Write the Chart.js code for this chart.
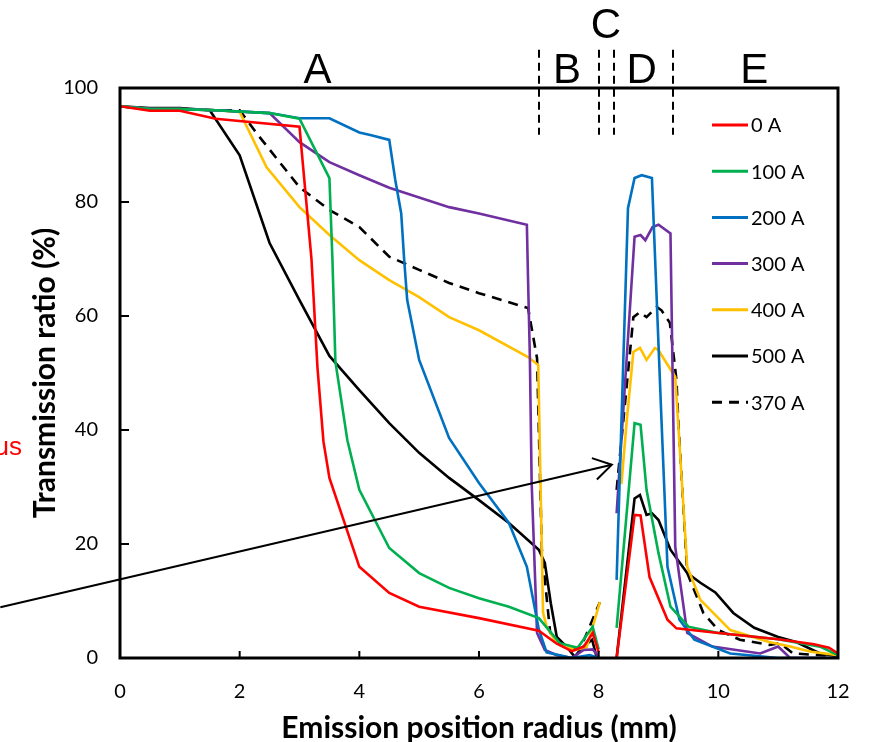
<!DOCTYPE html>
<html>
<head>
<meta charset="utf-8">
<script src="https://cdn.jsdelivr.net/npm/chart.js@4"></script>
<style>
  html, body { margin: 0; padding: 0; background: #fff; }
  #wrap { width: 872px; height: 742px; position: relative; }
</style>
</head>
<body>
<div id="wrap"><canvas id="myChart"></canvas></div>
<script>
'use strict';

// series names (legend order)
const seriesNames = ['0 A', '100 A', '200 A', '300 A', '400 A', '500 A', '370 A'];
const seriesColors = ['#ff0000', '#00b050', '#0070c0', '#7030a0', '#ffc000', '#000000', '#000000'];

// 0 A
const x0 = [0, 0.5, 1.0, 1.6, 3.0, 3.2, 3.3, 3.4, 3.5, 4.0, 4.5, 5.0, 6.0, 7.0, 7.3, 7.55, 7.75, 7.9, 8.0, 8.1,
  8.3, 8.6, 8.7, 8.85, 9.15, 9.3, 10.0, 11.0, 11.6, 11.85, 12];
const y0 = [96.8, 96, 96, 94.6, 93.2, 70, 51, 38, 31.6, 16, 11.4, 9, 7, 4.8, 2.5, 1.2, 2, 4.4, 1, null,
  0, 25.1, 25, 14.2, 6.7, 5.2, 4.4, 3.3, 2.4, 1.8, 0.8];

// 100 A
const x1 = [0, 0.5, 1.0, 1.6, 2.5, 3.0, 3.5, 3.55, 3.6, 3.8, 4.0, 4.5, 5.0, 5.5, 6.0, 6.5, 7.0, 7.35, 7.65, 7.9, 8.0, 8.1,
  8.3, 8.6, 8.7, 8.8, 9.0, 9.2, 9.5, 10.0, 11.0, 11.7, 12];
const y1 = [96.8, 96.3, 96.3, 96.1, 95.6, 94.6, 84.2, 70, 52, 38.2, 29.5, 19.3, 14.9, 12.3, 10.5, 9, 7, 2.6, 1.8, 5.5, 1.5, null,
  5.3, 41.2, 40.9, 29.5, 18.4, 9, 5.5, 4.4, 3.3, 2, 0.5];

// 200 A
const x2 = [0, 0.5, 1.0, 1.6, 2.5, 3.0, 3.5, 4.0, 4.2, 4.5, 4.6, 4.7, 4.75, 4.8, 5.0, 5.5, 6.0, 6.5, 6.8, 7.0, 7.13, 7.55, 7.85, 8.0, 8.1,
  8.3, 8.49, 8.6, 8.72, 8.89, 9.05, 9.15, 9.35, 9.5, 9.6, 10.2, 11.0, 12];
const y2 = [96.8, 96.3, 96.3, 96.1, 95.6, 94.7, 94.7, 92.2, 91.7, 90.9, 83.9, 78, 69.8, 62.8, 52.3, 38.6, 30.7, 23.7, 16, 5, 1, 0, 0.5, 0, null,
  13.7, 78.9, 84.2, 84.7, 84.2, 41.7, 16, 6.7, 4.6, 3.2, 0.8, 0, 0];

// 300 A
const x3 = [0, 0.5, 1.0, 1.6, 2.5, 3.0, 3.5, 4.0, 4.5, 5.5, 6.0, 6.8, 6.82, 6.85, 6.88, 6.97, 7.1, 7.3, 7.55, 7.75, 7.9, 8.0, 8.1,
  8.3, 8.6, 8.7, 8.78, 8.9, 9.0, 9.2, 9.28, 9.48, 9.9, 10.7, 10.85, 11.0, 11.2, 12];
const y3 = [96.8, 96.3, 96.3, 96.1, 95.6, 90.5, 87, 84.7, 82.5, 79.1, 78, 76, 66.3, 52.8, 30.7, 4.4, 1.4, 0.5, 0, 1.4, 1.5, 0.3, null,
  25.4, 73.9, 74.2, 73.3, 75.6, 76, 74.5, 19.5, 4.4, 2, 0.8, 1.4, 2.0, 0, 0];

// 400 A
const x4 = [0, 0.5, 1.0, 1.6, 2.0, 2.45, 3.0, 3.5, 4.0, 4.5, 5.0, 5.5, 6.0, 6.82, 6.99, 7.07, 7.13, 7.3, 7.6, 7.8, 8.02, 8.1,
  8.38, 8.47, 8.58, 8.69, 8.8, 8.94, 9.0, 9.28, 9.48, 9.7, 10.2, 10.85, 11.2, 11.55, 12];
const y4 = [96.8, 96.3, 96.3, 96.1, 95.8, 86.1, 79.1, 74.2, 69.8, 66.3, 63.3, 59.8, 57.5, 52.8, 51.4, 8, 5.5, 2.6, 1.4, 1.9, 9.8, null,
  30.5, 41.7, 53.7, 54.4, 52.3, 54.4, 54, 49.3, 16, 10.2, 4.9, 2.8, 2, 1.1, 0.5];

// 500 A
const x5 = [0, 0.5, 1.0, 1.5, 2.0, 2.5, 3.0, 3.5, 4.0, 4.5, 5.0, 5.5, 6.0, 6.5, 7.0, 7.1, 7.2, 7.3, 7.47, 7.6, 7.72, 7.89, 7.97, 8.1,
  8.3, 8.6, 8.69, 8.8, 8.89, 9.0, 9.2, 9.48, 9.7, 9.95, 10.25, 10.6, 11.0, 11.3, 11.7, 12];
const y5 = [96.8, 96.5, 96.5, 96.1, 88.2, 72.8, 62.8, 53, 47, 41.2, 36, 31.6, 27.7, 23.7, 19, 16.7, 9.6, 3.7, 1.9, 0.2, 1.8, 3.2, 0, null,
  0, 28, 28.6, 25.1, 25.4, 24.2, 19, 14.9, 13.2, 11.5, 7.9, 5.3, 3.7, 2.8, 0.8, 0.3];

// 370 A (dashed)
const x6 = [0, 0.5, 1.0, 1.6, 2.0, 2.28, 3.0, 3.5, 4.0, 4.5, 5.0, 5.5, 6.0, 6.82, 6.97, 7.05, 7.19, 7.5, 7.7, 8.02, 8.1,
  8.3, 8.58, 8.69, 8.8, 8.97, 9.05, 9.19, 9.3, 9.33, 9.48, 9.75, 10.0, 10.36, 10.86, 11.03, 11.25, 12];
const y6 = [96.8, 96.3, 96.3, 96.1, 96.1, 92.1, 82.6, 78.6, 75.6, 70.4, 68.1, 65.8, 64, 61.4, 52.6, 19, 4.4, 1.5, 1.8, 9.8, null,
  29.5, 59.8, 60.7, 59.8, 61.6, 61, 58.8, 48.8, 41.7, 14.9, 7.9, 4.9, 3.2, 2.3, 2.6, 0.8, 0.3];

const seriesX = [x0, x1, x2, x3, x4, x5, x6];
const seriesY = [y0, y1, y2, y3, y4, y5, y6];

// axis ticks
const xTicks = [0, 2, 4, 6, 8, 10, 12];
const yTicks = [0, 20, 40, 60, 80, 100];

// region marks (mm) and labels
const regionBounds = [7.0, 8.0, 8.25, 9.25];
const regionLabels = ['A', 'B', 'C', 'D', 'E'];
const regionLabelX = [3.3, 7.47, 8.12, 8.72, 10.6];
// arrow annotation, in data units
const arrowFrom = [-2.0, 8.9];
const arrowTo = [8.22, 33.9];

const datasets = seriesNames.map(function (name, i) {
  return {
    label: name,
    data: seriesX[i].map(function (x, j) { return { x: x, y: seriesY[i][j] }; }),
    borderColor: seriesColors[i],
    backgroundColor: seriesColors[i],
    borderWidth: 2.6,
    borderDash: name === '370 A' ? [10, 7] : [],
    pointRadius: 0,
    tension: 0,
    fill: false,
    spanGaps: false
  };
});

const decor = {
  id: 'decor',
  afterDatasetsDraw: function (chart) {
    const ctx = chart.ctx;
    const a = chart.chartArea;
    const xs = chart.scales.x, ys = chart.scales.y;
    ctx.save();
    // frame
    ctx.strokeStyle = '#000';
    ctx.lineWidth = 3;
    ctx.strokeRect(a.left, a.top, a.right - a.left, a.bottom - a.top);
    // inner ticks
    ctx.lineWidth = 2;
    yTicks.forEach(function (v) {
      const py = ys.getPixelForValue(v);
      ctx.beginPath(); ctx.moveTo(a.left, py); ctx.lineTo(a.left + 9, py); ctx.stroke();
    });
    xTicks.forEach(function (v) {
      const px = xs.getPixelForValue(v);
      ctx.beginPath(); ctx.moveTo(px, a.bottom); ctx.lineTo(px, a.bottom - 7); ctx.stroke();
    });
    ctx.restore();
  },
  afterDraw: function (chart) {
    const ctx = chart.ctx;
    const a = chart.chartArea;
    const xs = chart.scales.x, ys = chart.scales.y;
    ctx.save();

    // region boundaries
    ctx.strokeStyle = '#000';
    ctx.lineWidth = 2;
    ctx.setLineDash([8, 5]);
    regionBounds.forEach(function (v) {
      const px = Math.round(xs.getPixelForValue(v));
      ctx.beginPath();
      ctx.moveTo(px, ys.getPixelForValue(106.7));
      ctx.lineTo(px, ys.getPixelForValue(91.8));
      ctx.stroke();
    });
    ctx.setLineDash([]);

    // region letters
    ctx.fillStyle = '#000';
    ctx.font = '42px "Liberation Sans", Arial, sans-serif';
    ctx.textAlign = 'center';
    ctx.textBaseline = 'alphabetic';
    regionLabels.forEach(function (t, i) {
      const py = t === 'C' ? a.top - 50 : a.top - 5;
      ctx.fillText(t, xs.getPixelForValue(regionLabelX[i]), py);
    });

    // legend
    ctx.font = '20px Lato, "Noto Sans", sans-serif';
    ctx.textAlign = 'left';
    ctx.textBaseline = 'middle';
    seriesNames.forEach(function (name, i) {
      const py = a.top + 37 + i * 46.2;
      const lx = a.right - 126;
      ctx.strokeStyle = seriesColors[i];
      ctx.lineWidth = 3;
      ctx.setLineDash(name === '370 A' ? [10, 7] : []);
      ctx.beginPath(); ctx.moveTo(lx, py); ctx.lineTo(lx + 36, py); ctx.stroke();
      ctx.setLineDash([]);
      ctx.fillStyle = '#000';
      ctx.fillText(name, lx + 39, py + 1);
    });

    // arrow
    const x1p = xs.getPixelForValue(arrowFrom[0]), y1p = ys.getPixelForValue(arrowFrom[1]);
    const x2p = xs.getPixelForValue(arrowTo[0]), y2p = ys.getPixelForValue(arrowTo[1]);
    const ang = Math.atan2(y2p - y1p, x2p - x1p);
    ctx.strokeStyle = '#000';
    ctx.lineWidth = 2;
    ctx.beginPath(); ctx.moveTo(x1p, y1p); ctx.lineTo(x2p, y2p); ctx.stroke();
    ctx.beginPath();
    ctx.moveTo(x2p - 21 * Math.cos(ang - 0.55), y2p - 21 * Math.sin(ang - 0.55));
    ctx.lineTo(x2p, y2p);
    ctx.lineTo(x2p - 21 * Math.cos(ang + 0.55), y2p - 21 * Math.sin(ang + 0.55));
    ctx.stroke();

    // cut-off red label on the left
    ctx.fillStyle = '#ff0000';
    ctx.font = '26px "Liberation Sans", Arial, sans-serif';
    ctx.textAlign = 'right';
    ctx.textBaseline = 'alphabetic';
    ctx.fillText('us', 22, 455);
    ctx.restore();
  }
};

const ctx = document.getElementById('myChart').getContext('2d');
const chart = new Chart(ctx, {
  type: 'line',
  data: { datasets: datasets },
  options: {
    responsive: true,
    maintainAspectRatio: false,
    animation: false,
    events: [],
    layout: { padding: { left: 0, top: 88, right: 34, bottom: 0 } },
    plugins: { legend: { display: false }, tooltip: { enabled: false } },
    scales: {
      x: {
        type: 'linear',
        min: 0,
        max: 12,
        afterFit: function (s) { s.height = 84; },
        afterBuildTicks: function (s) { s.ticks = xTicks.map(function (v) { return { value: v }; }); },
        grid: { display: false, drawTicks: false },
        border: { display: false },
        ticks: { padding: 22, color: '#000', font: { family: 'Lato', size: 20 } },
        title: {
          display: true,
          text: 'Emission position radius (mm)',
          color: '#000',
          font: { family: 'Lato', size: 30, weight: 'bold' },
          padding: { top: 0, bottom: -4 }
        }
      },
      y: {
        min: 0,
        max: 100,
        afterFit: function (s) { s.width = 120; },
        afterBuildTicks: function (s) { s.ticks = yTicks.map(function (v) { return { value: v }; }); },
        grid: { display: false, drawTicks: false },
        border: { display: false },
        ticks: { padding: 22, color: '#000', font: { family: 'Lato', size: 20 } },
        title: {
          display: true,
          text: 'Transmission ratio (%)',
          color: '#000',
          font: { family: 'Lato', size: 30, weight: 'bold' },
          padding: { top: 27, bottom: 0 }
        }
      }
    }
  },
  plugins: [decor]
});
</script>
</body>
</html>
